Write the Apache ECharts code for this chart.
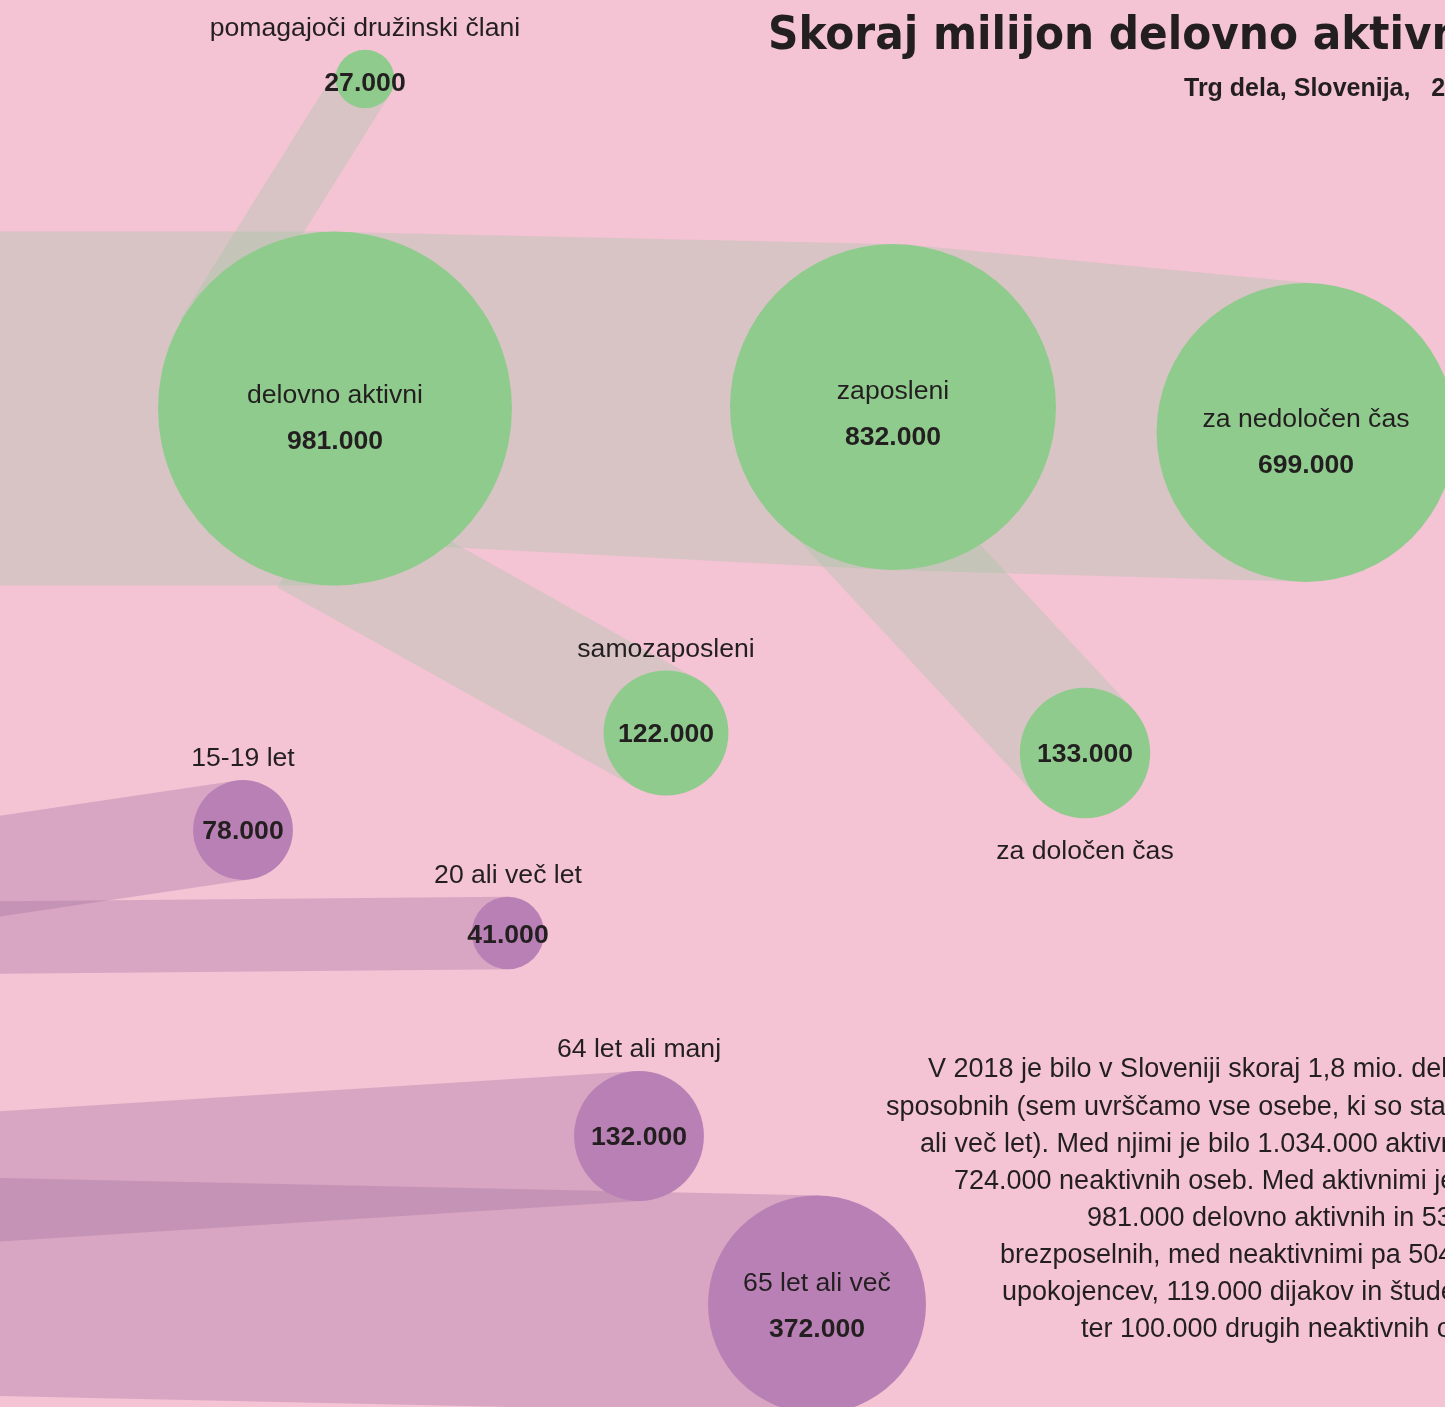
<!DOCTYPE html>
<html>
<head>
<meta charset="utf-8">
<title>Trg dela, Slovenija, 2018</title>
<script src="https://cdn.jsdelivr.net/npm/echarts@6/dist/echarts.min.js"></script>
<style>
  html, body { margin: 0; padding: 0; background: #f4c3d4; }
  #chart { width: 1445px; height: 1407px; }
</style>
</head>
<body>
<div id="chart"></div>
<script>
// podatki (stevilo oseb)
var nodeNames = ['delovno aktivni', 'zaposleni', 'za nedoločen čas', 'za določen čas', 'samozaposleni',
                 'pomagajoči družinski člani', '15-19 let', '20 ali več let', '64 let ali manj', '65 let ali več'];
var nodeValues = [981000, 832000, 699000, 133000, 122000, 27000, 78000, 41000, 132000, 372000];
var nodeGroups = [0, 0, 0, 0, 0, 0, 1, 1, 1, 1];   // 0 = zelena, 1 = vijolicna

// postavitev krogov (px)
var nodeX = [335, 893, 1306, 1085, 666, 365, 243, 508, 639, 817];
var nodeY = [408.5, 407, 432.5, 753, 733, 79, 830, 933, 1136, 1304.5];
var labelModes = ['in', 'in', 'in', 'below', 'above', 'above', 'above', 'above', 'above', 'in'];
var labelShift = [10, 8, 10, 2, 2, 5, 2, 3, 2, 2];

// trakovi: od kod pridejo do kroga (null = sirina kot krog)
var linkTargets = [0, 1, 2, 3, 4, 5, 6, 7, 8, 9];
var linkFromX = [-120, 335, 893, 824, 308, 205, -120, -120, -120, -120];
var linkFromY = [408.5, 386.5, 407, 472, 533, 335, 884, 938.5, 1184, 1284.5];
var linkFromW = [null, 309, 326, null, null, null, null, null, null, null];

var titleText = 'Skoraj milijon delovno aktivnih';
var subtitleText = 'Trg dela, Slovenija,   2018';
var paragraph = [
    'V 2018 je bilo v Sloveniji skoraj 1,8 mio. delovno',
    'sposobnih (sem uvrščamo vse osebe, ki so stare 15',
    'ali več let). Med njimi je bilo 1.034.000 aktivnih in',
    '724.000 neaktivnih oseb. Med aktivnimi je bilo',
    '981.000 delovno aktivnih in 53.000',
    'brezposelnih, med neaktivnimi pa 504.000',
    'upokojencev, 119.000 dijakov in študentov',
    'ter 100.000 drugih neaktivnih oseb.'
];
var paragraphX = [928, 886, 920, 954, 1087, 1000, 1002, 1081];

var circleColors = ['#8fcb8d', '#b980b5'];
var bandColors = ['rgba(164,198,166,0.35)', 'rgba(164,112,161,0.35)'];
var textColor = '#231f20';
var font = "'Liberation Sans', Arial, sans-serif";
var labelSize = 26.6;

function diameter(v) {
    return 11.3 * Math.sqrt(v / 1000);
}
function fmt(v) {
    return String(v).replace(/\B(?=(\d{3})+(?!\d))/g, '.');
}

var bandData = linkTargets.map(function (t, i) {
    return [linkFromX[i], linkFromY[i], nodeX[t], nodeY[t],
            linkFromW[i] || diameter(nodeValues[t]), nodeValues[t], nodeGroups[t]];
});

function renderBand(params, api) {
    var a = api.coord([api.value(0), api.value(1)]);
    var b = api.coord([api.value(2), api.value(3)]);
    var wa = api.value(4) / 2;
    var wb = diameter(api.value(5)) / 2;
    var dx = b[0] - a[0], dy = b[1] - a[1];
    var len = Math.sqrt(dx * dx + dy * dy);
    var nx = -dy / len, ny = dx / len;
    return {
        type: 'polygon',
        shape: {
            points: [
                [a[0] + nx * wa, a[1] + ny * wa],
                [b[0] + nx * wb, b[1] + ny * wb],
                [b[0] - nx * wb, b[1] - ny * wb],
                [a[0] - nx * wa, a[1] - ny * wa]
            ]
        },
        style: { fill: bandColors[api.value(6)] }
    };
}

var circleData = nodeNames.map(function (name, i) {
    var txt = labelModes[i] === 'in'
        ? '{n|' + name + '}\n{v|' + fmt(nodeValues[i]) + '}'
        : '{v|' + fmt(nodeValues[i]) + '}';
    return {
        name: name,
        value: [nodeX[i], nodeY[i], nodeValues[i]],
        itemStyle: { color: circleColors[nodeGroups[i]], opacity: 1 },
        label: { formatter: txt, offset: [0, labelShift[i]] }
    };
});

var outerNames = [];
nodeNames.forEach(function (name, i) {
    if (labelModes[i] === 'in') return;
    outerNames.push({
        name: name,
        value: [nodeX[i], nodeY[i], nodeValues[i]],
        label: {
            position: labelModes[i] === 'above' ? 'top' : 'bottom',
            distance: labelModes[i] === 'above' ? 6 : 18
        }
    });
});

function textEl(x, y, text, fnt) {
    return {
        type: 'text', x: x, y: y, silent: true,
        style: {
            text: text, fill: textColor, font: fnt, opacity: 1,
            align: 'left', verticalAlign: 'middle', textAlign: 'left', textVerticalAlign: 'middle'
        }
    };
}

var graphics = [
    textEl(768, 37, titleText, "bold 47px 'DejaVu Sans Condensed', 'DejaVu Sans', sans-serif"),
    textEl(1184, 89, subtitleText, 'bold 25px ' + font)
];
paragraph.forEach(function (line, i) {
    graphics.push(textEl(paragraphX[i], 1070 + 37.1 * i, line, '27px ' + font));
});

var chart = echarts.init(document.getElementById('chart'));
chart.setOption({
    backgroundColor: '#f4c3d4',
    animation: false,
    grid: { left: 0, right: 0, top: 0, bottom: 0 },
    xAxis: { type: 'value', min: 0, max: 1445, show: false },
    yAxis: { type: 'value', min: 0, max: 1407, inverse: true, show: false },
    series: [
        {
            type: 'custom',
            renderItem: renderBand,
            clip: false,
            silent: true,
            data: bandData,
            z: 1
        },
        {
            type: 'scatter',
            symbol: 'circle',
            symbolSize: function (val) { return diameter(val[2]); },
            data: circleData,
            silent: true,
            z: 2,
            label: {
                show: true,
                position: 'inside',
                color: textColor,
                fontFamily: font,
                rich: {
                    n: { fontSize: labelSize, lineHeight: 46, color: textColor, fontFamily: font },
                    v: { fontSize: labelSize, lineHeight: 46, fontWeight: 'bold', color: textColor, fontFamily: font }
                }
            }
        },
        {
            type: 'scatter',
            symbol: 'circle',
            symbolSize: function (val) { return diameter(val[2]); },
            itemStyle: { color: 'rgba(0,0,0,0)', opacity: 1 },
            data: outerNames,
            silent: true,
            z: 3,
            label: {
                show: true,
                formatter: '{b}',
                color: textColor,
                opacity: 1,
                fontFamily: font,
                fontSize: labelSize,
                lineHeight: 30
            }
        }
    ],
    graphic: graphics
});
</script>
</body>
</html>
